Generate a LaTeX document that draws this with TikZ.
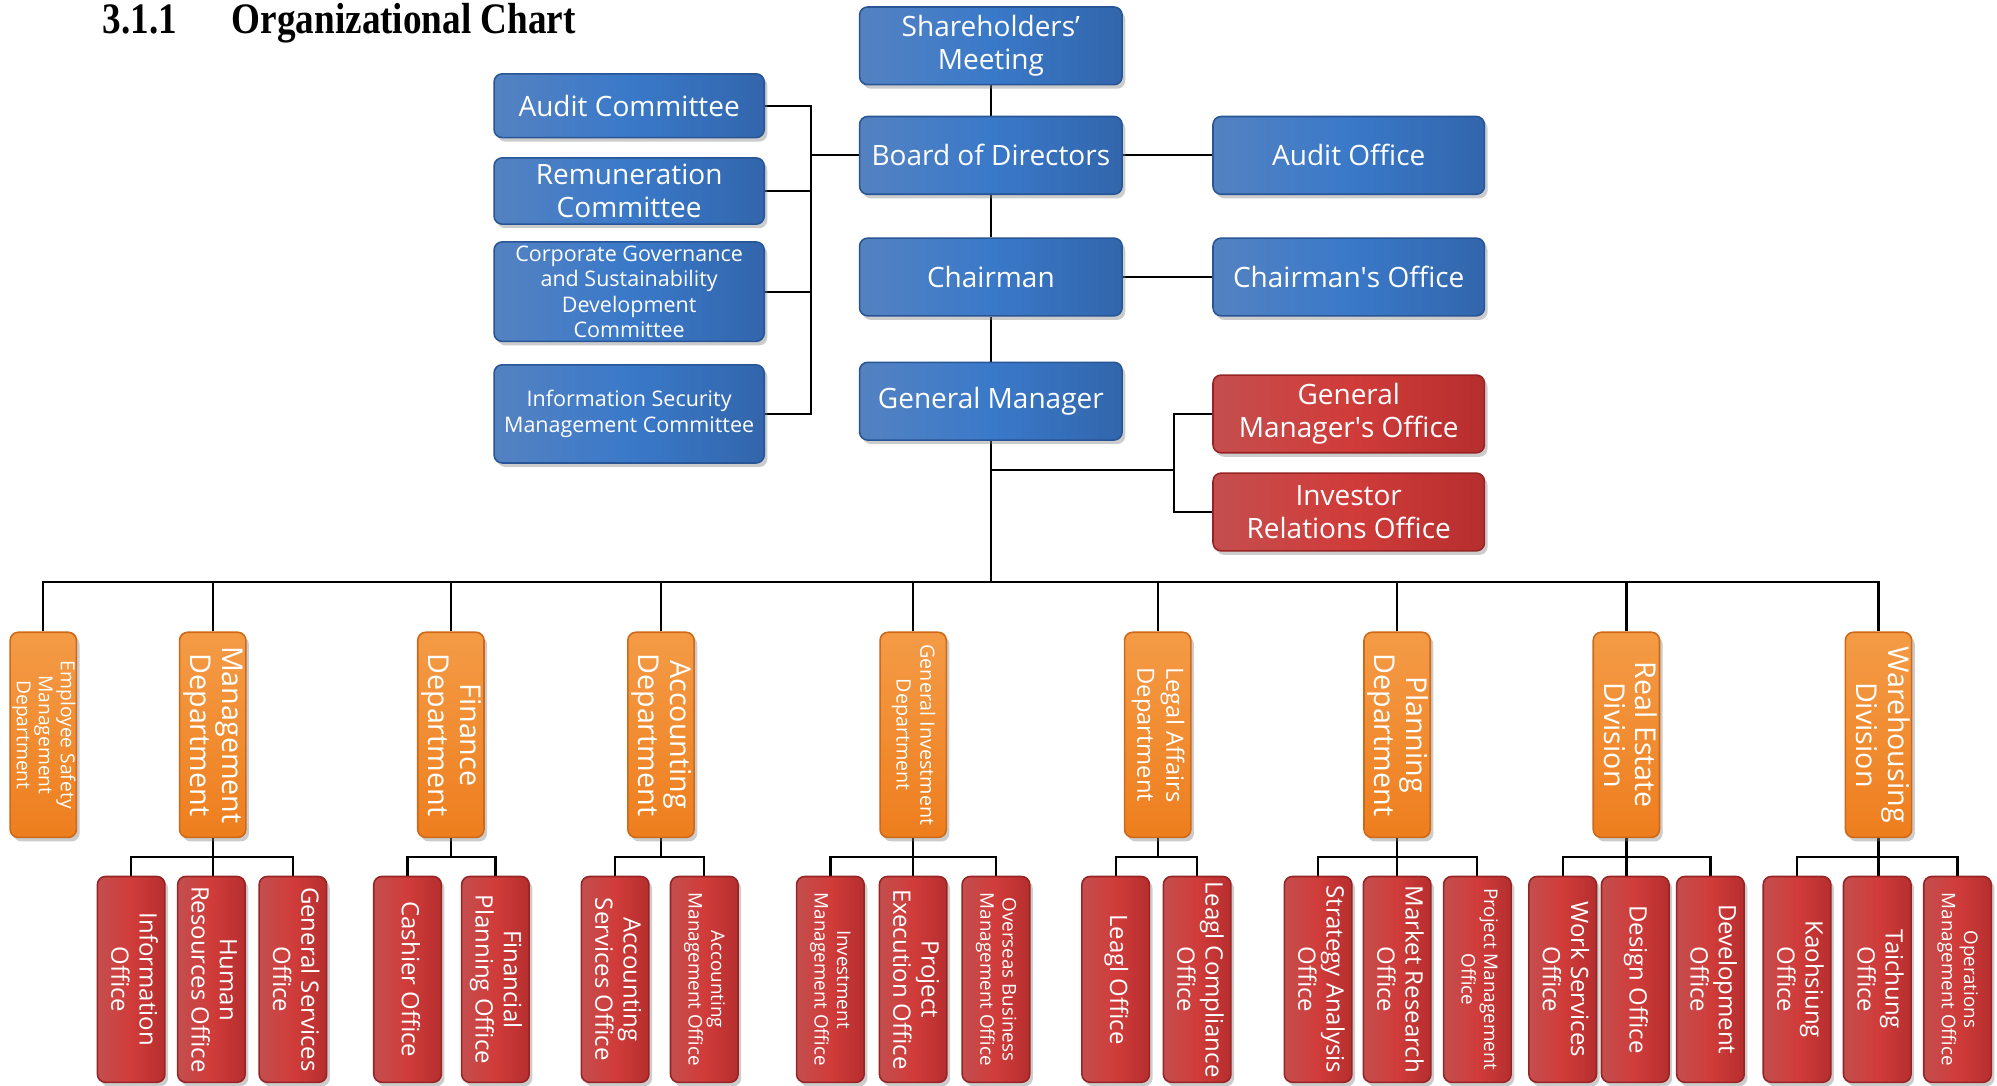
\documentclass[tikz,border=0pt]{standalone}
\usepackage{fontspec}
\setmainfont{Open Sans}
\newfontfamily\titlefont{Liberation Serif}
\usetikzlibrary{shadows,backgrounds}
\definecolor{bL}{RGB}{84,130,193}
\definecolor{bM}{RGB}{58,121,201}
\definecolor{bR}{RGB}{50,102,172}
\definecolor{bD}{RGB}{40,85,150}
\definecolor{rL}{RGB}{196,78,78}
\definecolor{rM}{RGB}{208,60,58}
\definecolor{rR}{RGB}{182,46,46}
\definecolor{rD}{RGB}{150,36,36}
\definecolor{oT}{RGB}{244,155,70}
\definecolor{oB}{RGB}{238,126,30}
\definecolor{oD}{RGB}{205,105,25}
\newcommand{\vtext}[3]{\rotatebox{-90}{\fontsize{#1}{#2}\selectfont\begin{tabular}{@{}c@{}}#3\end{tabular}}}
\tikzset{
  boxbase/.style={rounded corners=1.8pt, inner sep=0pt, align=center, text=white, line width=0.35pt,
     drop shadow={shadow xshift=0.7pt, shadow yshift=-0.9pt, opacity=0.4}},
  bluebox/.style={boxbase, draw=bD, left color=bL, right color=bR, middle color=bM},
  redbox/.style={boxbase, draw=rD, left color=rL, right color=rR, middle color=rM},
  orangebox/.style={boxbase, draw=oD, top color=oT, bottom color=oB},
  bigtxt/.style={font=\fontsize{6.25}{7.4}\selectfont},
  smalltxt/.style={font=\fontsize{4.8}{5.7}\selectfont},
  mainw/.style={minimum width=2.06cm, minimum height=0.61cm, bigtxt},
  sidew/.style={minimum width=2.13cm, minimum height=0.61cm, bigtxt},
  comw/.style={minimum width=2.12cm},
  dept/.style={orangebox, minimum width=0.52cm, minimum height=1.61cm},
  office/.style={redbox, minimum width=0.53cm, minimum height=1.615cm},
  wire/.style={line width=0.5pt, black},
}
\newcommand{\bigv}[1]{\vtext{6.4}{7.1}{#1}}
\newcommand{\medv}[1]{\vtext{5.35}{6.3}{#1}}
\newcommand{\smlv}[1]{\vtext{4.2}{5.0}{#1}}
\begin{document}
\begin{tikzpicture}[x=0.01cm,y=-0.01cm]
\useasboundingbox (0,0) rectangle (1568,852);
\node[anchor=base west, inner sep=0pt, font=\titlefont\bfseries\fontsize{8.3}{10}\selectfont] (title) at (80,26) {\scalebox{1}[1.17]{3.1.1\hspace{0.43cm}Organizational Chart}};

% main column
\node[bluebox, mainw] (sh) at (778,36) {Shareholders’\\Meeting};
\node[bluebox, mainw] (bod) at (778,122) {Board of Directors};
\node[bluebox, mainw] (ch) at (778,217.5) {Chairman};
\node[bluebox, mainw] (gm) at (778,315) {General Manager};
\node[bluebox, sidew] (ao) at (1059,122) {Audit Office};
\node[bluebox, sidew] (cho) at (1059,217.5) {Chairman\textquotesingle s Office};
\node[redbox, sidew] (gmo) at (1059,325) {General\\Manager\textquotesingle s Office};
\node[redbox, sidew] (iro) at (1059,402) {Investor\\Relations Office};

% committees
\node[bluebox, comw, minimum height=0.5cm, bigtxt] (ac) at (494,83) {Audit Committee};
\node[bluebox, comw, minimum height=0.52cm, bigtxt] (rc) at (494,150) {Remuneration\\Committee};
\node[bluebox, comw, minimum height=0.78cm, smalltxt] (cg) at (494,229) {Corporate Governance\\and Sustainability\\Development\\Committee};
\node[bluebox, comw, minimum height=0.77cm, smalltxt] (is) at (494,325) {Information Security\\Management Committee};

% departments
\node[dept] (d1) at (34,577) {\vtext{4.3}{4.9}{Employee Safety\\Management\\Department}};
\node[dept] (d2) at (167,577) {\bigv{Management\\Department}};
\node[dept] (d3) at (354,577) {\bigv{Finance\\Department}};
\node[dept] (d4) at (519,577) {\bigv{Accounting\\Department}};
\node[dept] (d5) at (717,577) {\vtext{4.4}{5.3}{General Investment\\Department}};
\node[dept] (d6) at (909,577) {\vtext{5.3}{6.5}{Legal Affairs\\Department}};
\node[dept] (d7) at (1097,577) {\bigv{Planning\\Department}};
\node[dept] (d8) at (1277,577) {\bigv{Real Estate\\Division}};
\node[dept] (d9) at (1475,577) {\bigv{Warehousing\\Division}};

% offices
\node[office] (o21) at (103,769) {\medv{Information\\Office}};
\node[office] (o22) at (166,769) {\medv{Human\\Resources Office}};
\node[office] (o23) at (230,769) {\medv{General Services\\Office}};
\node[office] (o31) at (320,769) {\medv{Cashier Office}};
\node[office] (o32) at (389,769) {\medv{Financial\\Planning Office}};
\node[office] (o41) at (483,769) {\medv{Accounting\\Services Office}};
\node[office] (o42) at (553,769) {\smlv{Accounting\\Management Office}};
\node[office] (o51) at (652,769) {\smlv{Investment\\Management Office}};
\node[office] (o52) at (717,769) {\medv{Project\\Execution Office}};
\node[office] (o53) at (782,769) {\smlv{Overseas Business\\Management Office}};
\node[office] (o61) at (876,769) {\medv{Leagl Office}};
\node[office] (o62) at (940,769) {\medv{Leagl Compliance\\Office}};
\node[office] (o71) at (1035,769) {\medv{Strategy Analysis\\Office}};
\node[office] (o72) at (1097,769) {\medv{Market Research\\Office}};
\node[office] (o73) at (1160,769) {\smlv{Project Management\\Office}};
\node[office] (o81) at (1227,769) {\medv{Work Services\\Office}};
\node[office] (o82) at (1284,769) {\medv{Design Office}};
\node[office] (o83) at (1343,769) {\medv{Development\\Office}};
\node[office] (o91) at (1411,769) {\medv{Kaohsiung\\Office}};
\node[office] (o92) at (1474,769) {\medv{Taichung\\Office}};
\node[office] (o93) at (1537,769) {\smlv{Operations\\Management Office}};

\coordinate (bus) at (0,457);
\coordinate (sb) at (0,673);
\coordinate (gmbr) at (922,369);
\coordinate (cbr) at (637,122);

\begin{pgfonlayer}{background}
\draw[wire] (sh.south) -- (bod.north);
\draw[wire] (bod.south) -- (ch.north);
\draw[wire] (ch.south) -- (gm.north);
\draw[wire] (gm.south) -- (gm.south |- bus);
\draw[wire] (bod.east) -- (ao.west);
\draw[wire] (ch.east) -- (cho.west);
\draw[wire] (gm.south |- gmbr) -- (gmbr);
\draw[wire] (gmo.west) -| (gmbr) |- (iro.west);
\draw[wire] (bod.west) -- (cbr);
\draw[wire] (ac.east) -| (cbr) |- (is.east);
\draw[wire] (rc.east) -- (rc.east -| cbr);
\draw[wire] (cg.east) -- (cg.east -| cbr);
\draw[wire] (d1.north) -- (d1.north |- bus) -- (d9.north |- bus) -- (d9.north);
\foreach \d in {d2,d3,d4,d5,d6,d7,d8}
  \draw[wire] (\d.north) -- (\d.north |- bus);
% sub branches
\draw[wire] (d2.south) -- (d2.south |- o22.north);
\draw[wire] (o21.north) -- (o21.north |- sb) -- (o23.north |- sb) -- (o23.north);
\draw[wire] (d3.south) -- (d3.south |- sb);
\draw[wire] (o31.north) -- (o31.north |- sb) -- (o32.north |- sb) -- (o32.north);
\draw[wire] (d4.south) -- (d4.south |- sb);
\draw[wire] (o41.north) -- (o41.north |- sb) -- (o42.north |- sb) -- (o42.north);
\draw[wire] (d5.south) -- (d5.south |- o52.north);
\draw[wire] (o51.north) -- (o51.north |- sb) -- (o53.north |- sb) -- (o53.north);
\draw[wire] (d6.south) -- (d6.south |- sb);
\draw[wire] (o61.north) -- (o61.north |- sb) -- (o62.north |- sb) -- (o62.north);
\draw[wire] (d7.south) -- (d7.south |- o72.north);
\draw[wire] (o71.north) -- (o71.north |- sb) -- (o73.north |- sb) -- (o73.north);
\draw[wire] (d8.south) -- (d8.south |- o82.north);
\draw[wire] (o81.north) -- (o81.north |- sb) -- (o83.north |- sb) -- (o83.north);
\draw[wire] (d9.south) -- (d9.south |- o92.north);
\draw[wire] (o91.north) -- (o91.north |- sb) -- (o93.north |- sb) -- (o93.north);
\end{pgfonlayer}
\end{tikzpicture}
\end{document}
